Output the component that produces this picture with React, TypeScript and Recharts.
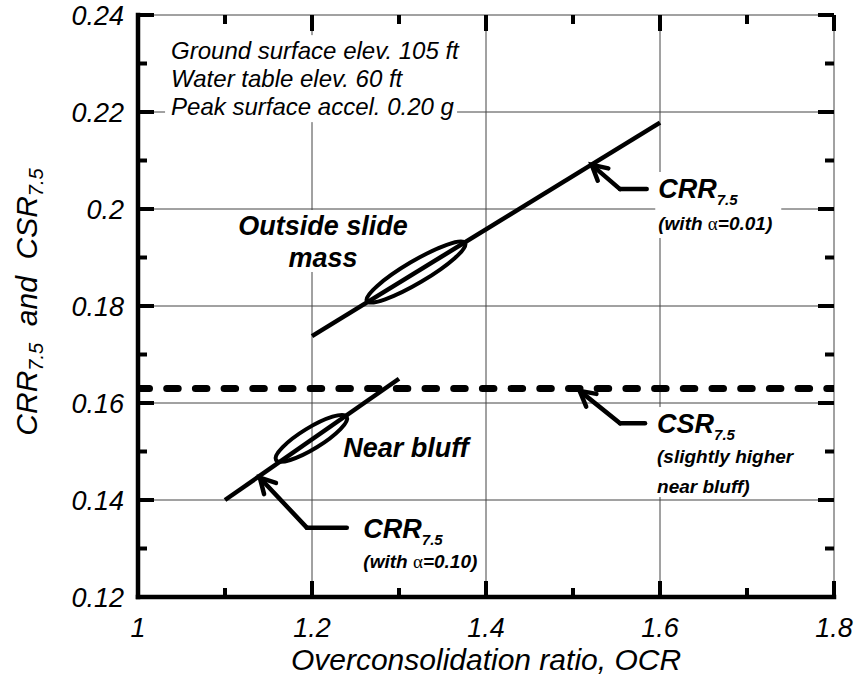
import React from 'react';
import {
  ComposedChart,
  Line,
  XAxis,
  YAxis,
  CartesianGrid,
  ReferenceDot,
  ReferenceLine,
} from 'recharts';

const FONT = '"Liberation Sans", Arial, Helvetica, sans-serif';

// ---- series values ----
const ocrOutside = [1.2, 1.6];
const crrOutside = [0.1738, 0.2178];
const ocrNearBluff = [1.1, 1.3];
const crrNearBluff = [0.14, 0.165];
const ocrCsr = [1.0, 1.8];
const csrValues = [0.163, 0.163];

// ---- axes ----
const xDomain = [1, 1.8];
const yDomain = [0.12, 0.24];
const xMajorTicks = [1, 1.2, 1.4, 1.6, 1.8];
const xMinorTicks = [1.1, 1.3, 1.5, 1.7];
const yMajorTicks = [0.12, 0.14, 0.16, 0.18, 0.2, 0.22, 0.24];
const yMinorTicks = [0.13, 0.15, 0.17, 0.19, 0.21, 0.23];

// ---- ellipses (major-axis end points, OCR / ratio) ----
const ellipseOutsideOcr = [1.263, 1.376];
const ellipseOutsideVal = [0.181, 0.193];
const ellipseNearOcr = [1.1586, 1.2399];
const ellipseNearVal = [0.14825, 0.15718];

// ---- leader arrows: tip, elbow, end ----
const arrowOutsideOcr = [1.5215, 1.554, 1.5847];
const arrowOutsideVal = [0.2091, 0.2041, 0.2041];
const arrowCsrOcr = [1.5077, 1.554, 1.5828];
const arrowCsrVal = [0.1625, 0.1558, 0.1558];
const arrowNearOcr = [1.14, 1.194, 1.24];
const arrowNearVal = [0.1446, 0.1343, 0.1343];

// ---- text ----
const notes = ['Ground surface elev. 105 ft', 'Water table elev. 60 ft', 'Peak surface accel. 0.20 g'];
const notesAnchor = { x: 1.038, y: 0.2309 };
const outsideLabel = ['Outside slide', 'mass'];
const outsideAnchor = { x: 1.2126, y: 0.19464 };
const crrUpperAnchor = { x: 1.598, y: 0.20227 };
const crrUpperNote = '=0.01)';
const csrAnchor = { x: 1.5966, y: 0.15381 };
const csrNotes = ['(slightly higher', 'near bluff)'];
const crrLowerAnchor = { x: 1.259, y: 0.13216 };
const crrLowerNote = '=0.10)';
const nearBluffLabel = 'Near bluff';
const nearBluffAnchor = { x: 1.236, y: 0.14893 };

const toPts = (xs: number[], ys: number[]) => xs.map((x, i) => ({ ocr: x, value: ys[i] }));
const outsideData = toPts(ocrOutside, crrOutside);
const nearData = toPts(ocrNearBluff, crrNearBluff);
const csrData = toPts(ocrCsr, csrValues);

const MAJ = 16;
const MIN = 9;
const TW = 4;
const INK = '#000';

// inward tick marks at both ends of a segment spanning the plot
const tickShape = (len: number) => (props: any) => {
  const x1 = Number(props.x1);
  const y1 = Number(props.y1);
  const x2 = Number(props.x2);
  const y2 = Number(props.y2);
  const d = Math.hypot(x2 - x1, y2 - y1) || 1;
  const ux = (x2 - x1) / d;
  const uy = (y2 - y1) / d;
  return (
    <g>
      <line x1={x1} y1={y1} x2={x1 + ux * len} y2={y1 + uy * len} stroke={INK} strokeWidth={TW} />
      <line x1={x2} y1={y2} x2={x2 - ux * len} y2={y2 - uy * len} stroke={INK} strokeWidth={TW} />
    </g>
  );
};
const majorTick = tickShape(MAJ);
const minorTick = tickShape(MIN);

const renderBottomLabel = (props: any) => {
  const x = Number(props.x);
  const y = Number(props.y);
  const v = props.payload.value;
  return (
    <text key={`b${v}`} x={x} y={y + 40} textAnchor="middle" fontFamily={FONT} fontStyle="italic" fontSize={27} fill={INK}>
      {String(v)}
    </text>
  );
};

const renderLeftLabel = (props: any) => {
  const x = Number(props.x);
  const y = Number(props.y);
  const v = props.payload.value;
  return (
    <text key={`l${v}`} x={x - 14} y={y + 10} textAnchor="end" fontFamily={FONT} fontStyle="italic" fontSize={27} fill={INK}>
      {String(v)}
    </text>
  );
};

const makeEllipse = (ry: number) => (props: any) => {
  const { x1, y1, x2, y2 } = props;
  const cx = (x1 + x2) / 2;
  const cy = (y1 + y2) / 2;
  const rx = Math.hypot(x2 - x1, y2 - y1) / 2;
  const ang = (Math.atan2(y2 - y1, x2 - x1) * 180) / Math.PI;
  return (
    <ellipse
      cx={cx}
      cy={cy}
      rx={rx}
      ry={ry}
      transform={`rotate(${ang} ${cx} ${cy})`}
      fill="none"
      stroke={INK}
      strokeWidth={4}
    />
  );
};

const ArrowHeadSeg = (props: any) => {
  const { x1, y1, x2, y2 } = props;
  const ang = Math.atan2(y2 - y1, x2 - x1);
  const L = 17;
  const a = 0.5;
  const p1 = `${x1 + L * Math.cos(ang + a)},${y1 + L * Math.sin(ang + a)}`;
  const p2 = `${x1 + L * Math.cos(ang - a)},${y1 + L * Math.sin(ang - a)}`;
  return (
    <g>
      <line x1={x1} y1={y1} x2={x2} y2={y2} stroke={INK} strokeWidth={4.5} strokeLinecap="round" />
      <polyline
        points={`${p1} ${x1},${y1} ${p2}`}
        fill="none"
        stroke={INK}
        strokeWidth={4.5}
        strokeLinecap="round"
        strokeLinejoin="miter"
      />
    </g>
  );
};

const PlainSeg = (props: any) => {
  const { x1, y1, x2, y2 } = props;
  return <line x1={x1} y1={y1} x2={x2} y2={y2} stroke={INK} strokeWidth={4.5} strokeLinecap="round" />;
};

const Alpha = () => (
  <tspan fontFamily='"Liberation Serif", "DejaVu Serif", serif' fontWeight="normal" fontStyle="normal">
    α
  </tspan>
);

const NotesShape = (props: any) => {
  const { cx, cy } = props;
  return (
    <g>
      <rect x={cx - 6} y={cy - 24} width={292} height={87} fill="#fff" />
      {notes.map((t, i) => (
        <text key={i} x={cx} y={cy + i * 28} fontFamily={FONT} fontStyle="italic" fontSize={24} fill={INK}>
          {t}
        </text>
      ))}
    </g>
  );
};

const OutsideShape = (props: any) => {
  const { cx, cy } = props;
  return (
    <g>
      <rect x={cx - 90} y={cy - 25} width={150} height={62} fill="#fff" />
      {outsideLabel.map((t, i) => (
        <text
          key={i}
          x={cx}
          y={cy + i * 32}
          textAnchor="middle"
          fontFamily={FONT}
          fontStyle="italic"
          fontWeight="bold"
          fontSize={27}
          fill={INK}
        >
          {t}
        </text>
      ))}
    </g>
  );
};

const RatioLabel = ({ cx, cy, main, lines, gap, box }: any) => (
  <g>
    {box && <rect x={cx - 3} y={cy - 26} width={box[0]} height={box[1]} fill="#fff" />}
    <text x={cx} y={cy} fontFamily={FONT} fontStyle="italic" fontWeight="bold" fontSize={27} fill={INK}>
      {main}
      <tspan fontSize={15} dy={7}>
        7.5
      </tspan>
    </text>
    {lines.map((l: any, i: number) => (
      <text
        key={i}
        x={cx}
        y={cy + gap + i * 30}
        fontFamily={FONT}
        fontStyle="italic"
        fontWeight="bold"
        fontSize={19}
        fill={INK}
      >
        {l}
      </text>
    ))}
  </g>
);

const CrrUpperShape = (props: any) => (
  <RatioLabel
    cx={props.cx}
    cy={props.cy}
    main="CRR"
    gap={32}
    box={[126, 66]}
    lines={[
      <>
        (with <Alpha />
        {crrUpperNote}
      </>,
    ]}
  />
);

const CsrShape = (props: any) => (
  <RatioLabel cx={props.cx} cy={props.cy} main="CSR" gap={30} box={[142, 90]} lines={csrNotes} />
);

const CrrLowerShape = (props: any) => (
  <RatioLabel
    cx={props.cx}
    cy={props.cy}
    main="CRR"
    gap={30}
    box={null}
    lines={[
      <>
        (with <Alpha />
        {crrLowerNote}
      </>,
    ]}
  />
);

const NearBluffShape = (props: any) => (
  <text
    x={props.cx}
    y={props.cy}
    fontFamily={FONT}
    fontStyle="italic"
    fontWeight="bold"
    fontSize={27}
    fill={INK}
  >
    {nearBluffLabel}
  </text>
);

const NB = '\u00a0';

const YTitle = (p: any) => {
  const vb = p.viewBox || { x: 0, y: 15, width: 138, height: 582 };
  const cx = vb.x + 37;
  const cy = vb.y + vb.height / 2 - 4;
  return (
    <text
      x={cx}
      y={cy}
      transform={`rotate(-90 ${cx} ${cy})`}
      textAnchor="middle"
      fontFamily={FONT}
      fontStyle="italic"
      fontSize={30}
      fill={INK}
    >
      CRR
      <tspan fontSize={20} dy={6}>
        7.5
      </tspan>
      <tspan dy={-6}>{`${NB}${NB}and${NB}${NB}`}</tspan>
      CSR
      <tspan fontSize={20} dy={6}>
        7.5
      </tspan>
    </text>
  );
};

const XTitle = (p: any) => {
  const vb = p.viewBox || { x: 138, y: 597, width: 696, height: 83 };
  return (
    <text
      x={vb.x + vb.width / 2}
      y={vb.y + 73}
      textAnchor="middle"
      fontFamily={FONT}
      fontStyle="italic"
      fontSize={30}
      fill={INK}
    >
      Overconsolidation ratio, OCR
    </text>
  );
};

const seg = (xs: number[], ys: number[], i: number) => [
  { x: xs[i], y: ys[i] },
  { x: xs[i + 1], y: ys[i + 1] },
];

const vSeg = (v: number) => [
  { x: v, y: yDomain[0] },
  { x: v, y: yDomain[1] },
];
const hSeg = (v: number) => [
  { x: xDomain[0], y: v },
  { x: xDomain[1], y: v },
];

const frameLine = { stroke: INK, strokeWidth: 4.5, strokeLinecap: 'square' as const };

export default function App() {
  return (
    <div style={{ position: 'fixed', left: 0, top: 0, width: 858, height: 680, background: '#fff' }}>
      <ComposedChart width={858} height={680} margin={{ top: 15, right: 24, bottom: 0, left: 0 }}>
        <CartesianGrid stroke="#444" strokeWidth={1} verticalValues={xMajorTicks} horizontalValues={yMajorTicks} />
        <XAxis
          dataKey="ocr"
          type="number"
          domain={xDomain}
          allowDataOverflow
          ticks={xMajorTicks}
          interval={0}
          tick={renderBottomLabel}
          tickLine={false}
          axisLine={frameLine}
          tickSize={0}
          tickMargin={0}
          height={83}
          label={{ content: XTitle }}
        />
        <XAxis
          xAxisId="top"
          orientation="top"
          type="number"
          domain={xDomain}
          allowDataOverflow
          ticks={xMajorTicks}
          tick={false}
          tickLine={false}
          axisLine={frameLine}
          tickSize={0}
          height={0}
        />
        <YAxis
          type="number"
          domain={yDomain}
          allowDataOverflow
          ticks={yMajorTicks}
          interval={0}
          tick={renderLeftLabel}
          tickLine={false}
          axisLine={frameLine}
          tickSize={0}
          tickMargin={0}
          width={138}
          label={{ content: YTitle }}
        />
        <YAxis
          yAxisId="right"
          orientation="right"
          type="number"
          domain={yDomain}
          allowDataOverflow
          ticks={yMajorTicks}
          tick={false}
          tickLine={false}
          axisLine={frameLine}
          tickSize={0}
          width={0}
        />

        {xMajorTicks.map((v) => (
          <ReferenceLine key={`xM${v}`} segment={vSeg(v)} ifOverflow="visible" shape={majorTick} />
        ))}
        {xMinorTicks.map((v) => (
          <ReferenceLine key={`xm${v}`} segment={vSeg(v)} ifOverflow="visible" shape={minorTick} />
        ))}
        {yMajorTicks.map((v) => (
          <ReferenceLine key={`yM${v}`} segment={hSeg(v)} ifOverflow="visible" shape={majorTick} />
        ))}
        {yMinorTicks.map((v) => (
          <ReferenceLine key={`ym${v}`} segment={hSeg(v)} ifOverflow="visible" shape={minorTick} />
        ))}

        <ReferenceDot x={notesAnchor.x} y={notesAnchor.y} r={0} shape={NotesShape} />
        <ReferenceDot x={outsideAnchor.x} y={outsideAnchor.y} r={0} shape={OutsideShape} />
        <ReferenceDot x={crrUpperAnchor.x} y={crrUpperAnchor.y} r={0} shape={CrrUpperShape} />
        <ReferenceDot x={csrAnchor.x} y={csrAnchor.y} r={0} shape={CsrShape} />
        <ReferenceDot x={crrLowerAnchor.x} y={crrLowerAnchor.y} r={0} shape={CrrLowerShape} />
        <ReferenceDot x={nearBluffAnchor.x} y={nearBluffAnchor.y} r={0} shape={NearBluffShape} />

        <Line
          data={csrData}
          dataKey="value"
          type="linear"
          stroke={INK}
          strokeWidth={7}
          strokeDasharray="11.5 17.2"
          strokeLinecap="round"
          dot={false}
          activeDot={false}
          isAnimationActive={false}
        />
        <Line
          data={outsideData}
          dataKey="value"
          type="linear"
          stroke={INK}
          strokeWidth={4.5}
          dot={false}
          activeDot={false}
          isAnimationActive={false}
        />
        <Line
          data={nearData}
          dataKey="value"
          type="linear"
          stroke={INK}
          strokeWidth={4.5}
          dot={false}
          activeDot={false}
          isAnimationActive={false}
        />

        <ReferenceLine segment={seg(ellipseOutsideOcr, ellipseOutsideVal, 0)} shape={makeEllipse(11)} />
        <ReferenceLine segment={seg(ellipseNearOcr, ellipseNearVal, 0)} shape={makeEllipse(10.5)} />

        <ReferenceLine segment={seg(arrowOutsideOcr, arrowOutsideVal, 0)} shape={ArrowHeadSeg} />
        <ReferenceLine segment={seg(arrowOutsideOcr, arrowOutsideVal, 1)} shape={PlainSeg} />
        <ReferenceLine segment={seg(arrowCsrOcr, arrowCsrVal, 0)} shape={ArrowHeadSeg} />
        <ReferenceLine segment={seg(arrowCsrOcr, arrowCsrVal, 1)} shape={PlainSeg} />
        <ReferenceLine segment={seg(arrowNearOcr, arrowNearVal, 0)} shape={ArrowHeadSeg} />
        <ReferenceLine segment={seg(arrowNearOcr, arrowNearVal, 1)} shape={PlainSeg} />
      </ComposedChart>
    </div>
  );
}
